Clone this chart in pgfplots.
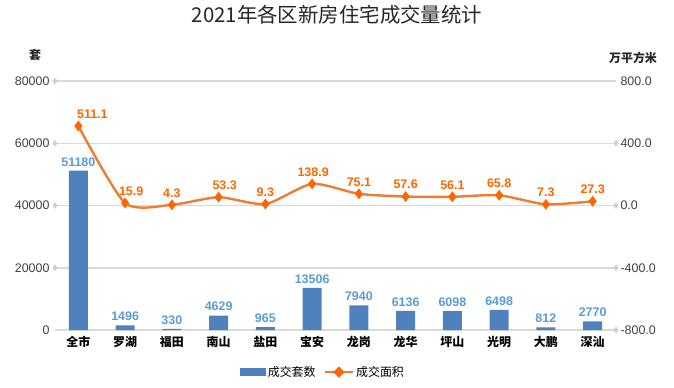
\documentclass[border=0pt]{standalone}
\usepackage{pgfplots}
\usepackage{pgfplotstable}
\pgfplotsset{compat=1.18}
\usepackage{fontspec}
\setmainfont{Liberation Sans}
\newfontfamily\cjk{Noto Sans CJK SC}
\definecolor{barblue}{HTML}{4F81BD}
\definecolor{barlab}{HTML}{5B9BD5}
\definecolor{lineor}{HTML}{ED7D31}
\definecolor{markor}{HTML}{FF6600}
\definecolor{gridc}{HTML}{D9D9D9}
\definecolor{gridd}{HTML}{CFCFCF}
\definecolor{tickc}{HTML}{404040}
\pgfplotstableread{
x cnt
0 51180
1 1496
2 330
3 4629
4 965
5 13506
6 7940
7 6136
8 6098
9 6498
10 812
11 2770
}\cnttable
\pgfplotstableread{
x area dx
0 511.1 14
1 15.9 6
2 4.3 0
3 53.3 6
4 9.3 0
5 138.9 1
6 75.1 0
7 57.6 0
8 56.1 0
9 65.8 0
10 7.3 0
11 27.3 0
}\areatable
\begin{document}
\begin{tikzpicture}[x=1bp,y=1bp]
\path[use as bounding box] (0,0) rectangle (674,387);
\pgfplotsset{base/.style={scale only axis, width=561bp, height=249bp,
  at={(55bp,57bp)}, anchor=south west, xmin=-0.5, xmax=11.5, clip=false,
  axis line style={draw=none}, major tick length=0pt,
  /pgf/number format/assume math mode=true}}
\begin{axis}[base,
  ymin=0, ymax=80000, ytick={0,20000,40000,60000,80000},
  scaled y ticks=false,
  /pgf/number format/.cd, 1000 sep={}, /pgfplots/.cd,
  ymajorgrids, grid style={gridc, line width=1.5bp},
  xtick={0,...,11},
  xticklabels={全市,罗湖,福田,南山,盐田,宝安,龙岗,龙华,坪山,光明,大鹏,深汕},
  xticklabel style={font=\cjk\bfseries\fontsize{12}{12}\selectfont, yshift=-3bp},
  yticklabel style={font=\fontsize{12.5}{12.5}\selectfont, color=tickc, xshift=-2bp},
]
\addplot[only marks, mark=diamond*, mark size=3bp, color=gridd, forget plot]
  coordinates {(-0.5,20000)(-0.5,40000)(-0.5,60000)(-0.5,80000)
               (11.5,0)(11.5,20000)(11.5,40000)(11.5,60000)};
\addplot[ybar, bar width=19bp, fill=barblue, draw=none,
  nodes near coords,
  every node near coord/.style={font=\bfseries\fontsize{12.5}{12.5}\selectfont, color=barlab, anchor=south, yshift=1bp}]
  table[x=x, y=cnt]{\cnttable};
\end{axis}
\begin{axis}[base,
  ymin=-800, ymax=800, ytick={-800,-400,0,400,800},
  axis y line*=right, axis x line=none,
  /pgf/number format/.cd, fixed, fixed zerofill, precision=1, /pgfplots/.cd,
  yticklabel style={font=\fontsize{12.5}{12.5}\selectfont, color=tickc, xshift=1bp},
  legend columns=2,
  legend style={at={(0.478,-0.169)}, anchor=center, draw=none, fill=none,
    font=\cjk\fontsize{12}{12}\selectfont, /tikz/every even column/.append style={column sep=6bp}},
]
\addlegendimage{legend image code/.code={\fill[barblue] (0bp,-3.5bp) rectangle (25bp,3.5bp);}}
\addlegendentry{成交套数}
\addplot[smooth, tension=0.4, lineor, line width=2.4bp,
  mark=diamond*, mark size=3.5bp, mark options={markor, fill=markor, solid},
  visualization depends on={\thisrow{dx} \as \dx},
  nodes near coords,
  every node near coord/.style={font=\bfseries\fontsize{12.5}{12.5}\selectfont, color=markor, anchor=south, yshift=3bp, xshift=\dx bp},
  legend image code/.code={\draw[lineor,line width=2.5bp] (0bp,0bp)--(28bp,0bp);
    \fill[markor] (14bp,0bp) +(-4bp,0bp) -- +(0bp,4bp) -- +(4bp,0bp) -- +(0bp,-4bp) -- cycle;}]
  table[x=x, y=area]{\areatable};
\addlegendentry{成交面积}
\end{axis}
\node[font=\cjk\fontsize{20.5}{20.5}\selectfont, color=black!85] at (337,372) {2021年各区新房住宅成交量统计};
\node[font=\cjk\bfseries\fontsize{12}{12}\selectfont, color=black!85] at (35,332) {套};
\node[font=\cjk\bfseries\fontsize{12}{12}\selectfont, color=black!85] at (633,329) {万平方米};
\end{tikzpicture}
\end{document}
